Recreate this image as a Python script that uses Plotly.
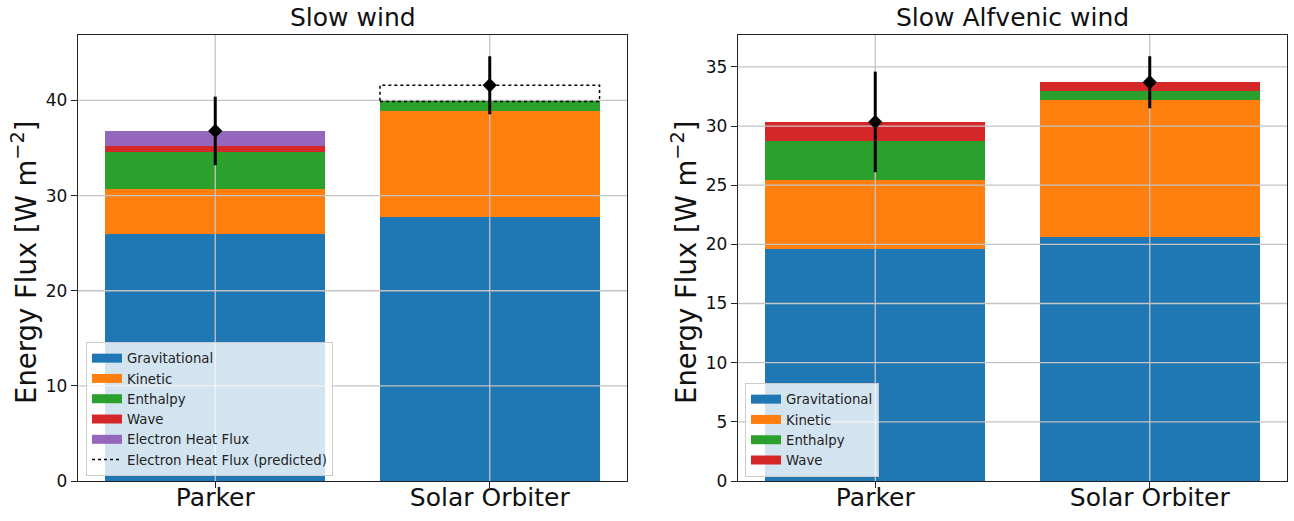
import plotly.graph_objects as go

# ---------------- data ----------------
categories = ["Parker", "Solar Orbiter"]
x_pos = [0, 1]

# Slow wind (left panel)
slow_grav = [26.0, 27.8]
slow_kin = [4.7, 11.1]
slow_enth = [3.86, 1.0]
slow_wave = [0.7, 0.0]
slow_ehf = [1.5, 0.0]
slow_ehf_pred = [0.0, 1.7]
slow_total = [36.8, 41.6]
slow_err = [3.6, 3.05]

# Slow Alfvenic wind (right panel)
alf_grav = [19.6, 20.65]
alf_kin = [5.8, 11.55]
alf_enth = [3.3, 0.8]
alf_wave = [1.65, 0.7]
alf_total = [30.35, 33.7]
alf_err = [4.25, 2.2]

left_yticks = [0, 10, 20, 30, 40]
right_yticks = [0, 5, 10, 15, 20, 25, 30, 35]

colors = {
    "Gravitational": "#1f77b4",
    "Kinetic": "#ff7f0e",
    "Enthalpy": "#2ca02c",
    "Wave": "#d62728",
    "Electron Heat Flux": "#9467bd",
}
BAR_W = 0.8
FONT = "DejaVu Sans"
GRID = "#c4c4c4"

fig = go.Figure()

def add_bars(series, xa, ya, legend):
    for name, vals in series:
        fig.add_trace(go.Bar(
            x=x_pos, y=vals, width=BAR_W, name=name,
            marker=dict(color=colors[name], line=dict(width=0)),
            xaxis=xa, yaxis=ya, showlegend=False,
        ))
        # legend proxy (wide rectangular swatch like the original)
        fig.add_trace(go.Scatter(
            x=[None], y=[None], mode="lines", name=name,
            line=dict(color=colors[name], width=9),
            xaxis=xa, yaxis=ya, legend=legend, showlegend=True, hoverinfo="skip"))

add_bars([("Gravitational", slow_grav), ("Kinetic", slow_kin), ("Enthalpy", slow_enth),
          ("Wave", slow_wave), ("Electron Heat Flux", slow_ehf)], "x", "y", "legend")
add_bars([("Gravitational", alf_grav), ("Kinetic", alf_kin), ("Enthalpy", alf_enth),
          ("Wave", alf_wave)], "x2", "y2", "legend2")

def add_grid(yticks, ymax, xa, ya):
    for t in yticks[1:]:
        fig.add_trace(go.Scatter(x=[-0.5, 1.5], y=[t, t], mode="lines",
                                 line=dict(color=GRID, width=1.3), hoverinfo="skip",
                                 showlegend=False, xaxis=xa, yaxis=ya))
    for xp in x_pos:
        fig.add_trace(go.Scatter(x=[xp, xp], y=[0, ymax], mode="lines",
                                 line=dict(color=GRID, width=1.3), hoverinfo="skip",
                                 showlegend=False, xaxis=xa, yaxis=ya))

left_ymax = max(t + e for t, e in zip(slow_total, slow_err)) * 1.05
right_ymax = max(t + e for t, e in zip(alf_total, alf_err)) * 1.05

add_grid(left_yticks, left_ymax, "x", "y")
add_grid(right_yticks, right_ymax, "x2", "y2")

for i, v in enumerate(slow_ehf_pred):
    if v > 0:
        base = slow_grav[i] + slow_kin[i] + slow_enth[i] + slow_wave[i] + slow_ehf[i]
        x0, x1 = x_pos[i] - BAR_W / 2, x_pos[i] + BAR_W / 2
        fig.add_trace(go.Scatter(
            x=[x0, x1, x1, x0, x0], y=[base, base, base + v, base + v, base],
            mode="lines", line=dict(color="black", width=1.5, dash="dot"),
            name="Electron Heat Flux (predicted)", xaxis="x", yaxis="y",
            legend="legend", showlegend=True, hoverinfo="skip"))

for xa, ya, tot, err in [("x", "y", slow_total, slow_err), ("x2", "y2", alf_total, alf_err)]:
    fig.add_trace(go.Scatter(
        x=x_pos, y=tot, mode="markers",
        marker=dict(symbol="diamond", size=11, color="black"),
        error_y=dict(type="data", array=err, visible=True, color="black",
                     thickness=3, width=0),
        xaxis=xa, yaxis=ya, showlegend=False))

H = 521
W = 1294
top, bottom = 35, 481
yd = [1 - bottom / H, 1 - top / H]

axis_common = dict(showline=True, mirror=True, linecolor="#222", linewidth=1.3,
                   ticks="outside", ticklen=6, tickwidth=1.2, tickcolor="#222",
                   showgrid=False, zeroline=False, automargin=False)

legend_common = dict(xanchor="left", yanchor="bottom",
                     bgcolor="rgba(255,255,255,0.8)", bordercolor="#cccccc", borderwidth=1,
                     font=dict(size=13.3, family=FONT, color="#222"), traceorder="normal",
                     tracegroupgap=0, itemwidth=30)

fig.update_layout(
    width=W, height=H, margin=dict(l=0, r=0, t=0, b=0, pad=0), autosize=False,
    paper_bgcolor="white", plot_bgcolor="white",
    barmode="stack", bargap=0,
    font=dict(family=FONT, color="#111"),
    xaxis=dict(domain=[78 / W, 627 / W], range=[-0.5, 1.5], tickvals=x_pos,
               ticktext=categories, tickfont=dict(size=25), anchor="y",
               ticklabelstandoff=-12, **axis_common),
    yaxis=dict(domain=yd, range=[0, left_ymax], tickvals=left_yticks,
               tickfont=dict(size=17), anchor="x", **axis_common),
    xaxis2=dict(domain=[738 / W, 1287 / W], range=[-0.5, 1.5], tickvals=x_pos,
                ticktext=categories, tickfont=dict(size=25), anchor="y2",
                ticklabelstandoff=-12, **axis_common),
    yaxis2=dict(domain=yd, range=[0, right_ymax], tickvals=right_yticks,
                tickfont=dict(size=17), anchor="x2", **axis_common),
    legend=dict(x=86 / W, y=1 - 476 / H, **legend_common),
    legend2=dict(x=745 / W, y=1 - 477 / H, **legend_common),
    annotations=[
        dict(text="Slow wind", x=(78 + 627) / 2 / W, y=1 - 17 / H, xref="paper", yref="paper",
             showarrow=False, font=dict(size=25, family=FONT, color="#111"),
             xanchor="center", yanchor="middle"),
        dict(text="Slow Alfvenic wind", x=(738 + 1287) / 2 / W, y=1 - 17 / H, xref="paper",
             yref="paper", showarrow=False, font=dict(size=25, family=FONT, color="#111"),
             xanchor="center", yanchor="middle"),
        dict(text="Energy Flux [W m<sup>−2</sup>]", x=24 / W, y=1 - 262 / H, xref="paper",
             yref="paper", showarrow=False, textangle=-90,
             font=dict(size=27.5, family=FONT, color="#111"), xanchor="center", yanchor="middle"),
        dict(text="Energy Flux [W m<sup>−2</sup>]", x=684 / W, y=1 - 262 / H, xref="paper",
             yref="paper", showarrow=False, textangle=-90,
             font=dict(size=27.5, family=FONT, color="#111"), xanchor="center", yanchor="middle"),
    ],
)

fig.write_html("out.html")
